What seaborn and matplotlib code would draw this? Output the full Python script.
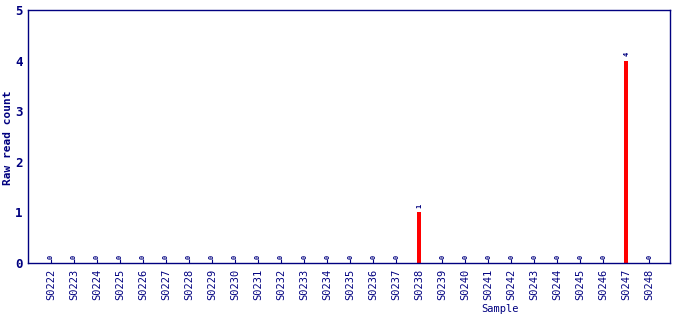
import matplotlib
matplotlib.use("Agg")
import matplotlib.pyplot as plt
import seaborn as sns
import pandas as pd

samples = ["S0222", "S0223", "S0224", "S0225", "S0226", "S0227", "S0228", "S0229",
           "S0230", "S0231", "S0232", "S0233", "S0234", "S0235", "S0236", "S0237",
           "S0238", "S0239", "S0240", "S0241", "S0242", "S0243", "S0244", "S0245",
           "S0246", "S0247", "S0248"]
counts = [0, 0, 0, 0, 0, 0, 0, 0, 0, 0, 0, 0, 0, 0, 0, 0,
          1, 0, 0, 0, 0, 0, 0, 0, 0, 4, 0]
y_ticks = [0, 1, 2, 3, 4, 5]

sns.set_style("white")
plt.rcParams['font.family'] = ['DejaVu Sans Mono', 'DejaVu Sans']
navy = "#000080"

df = pd.DataFrame({"Sample": samples, "Count": counts})
fig = plt.figure(figsize=(6.9, 3.2), dpi=100)
ax = fig.add_axes([28/690, 1-263/320, (670-28)/690, (263-10)/320])
sns.barplot(data=df, x="Sample", y="Count", color="#ff0000", width=0.18,
            saturation=1, ax=ax, edgecolor="none")
ax.bar_label(ax.containers[0], labels=[str(c) for c in counts], rotation=90,
             padding=3, fontsize=5, color=navy, fontweight="bold")
ax.set_ylim(0, 5)
ax.set_xlim(-1, 26.9)
ax.set_yticks(y_ticks)
ax.set_yticklabels([str(v) for v in y_ticks], fontweight="bold", fontsize=9, color=navy)
ax.tick_params(axis="x", direction="in", length=3, color=navy, labelrotation=90,
               labelsize=7.5, labelcolor=navy, pad=4, bottom=True)
ax.tick_params(axis="y", length=0, pad=4, left=True)
for s in ax.spines.values():
    s.set_color(navy)
    s.set_linewidth(1)
ax.set_ylabel("Raw read count", fontweight="bold", fontsize=8, color=navy)
ax.yaxis.set_label_coords((8-28)/642, (263-138)/253)
ax.yaxis.label.set_va("center")
ax.set_xlabel("Sample", fontsize=7.5, color=navy)
ax.xaxis.set_label_coords((500-28)/642, (263-309)/253)
ax.xaxis.label.set_va("center")
fig.savefig("out.png", dpi=100)
